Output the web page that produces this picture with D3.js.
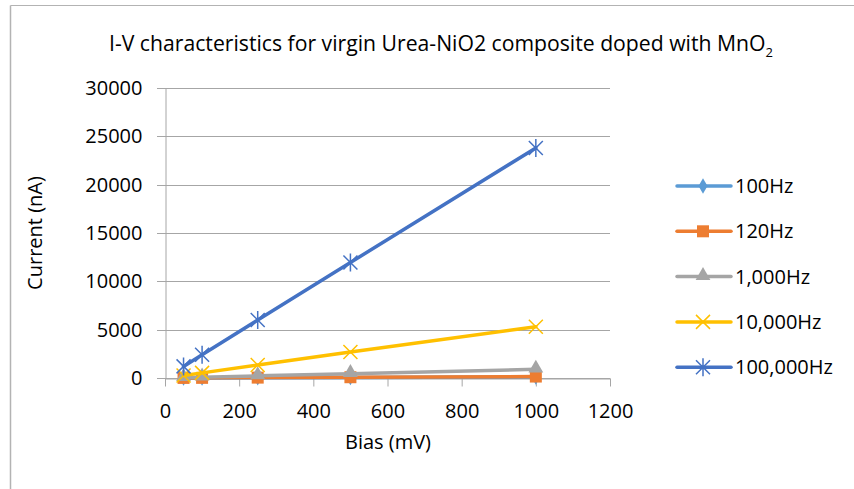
<!DOCTYPE html>
<html>
<head>
<meta charset="utf-8">
<script src="https://cdn.jsdelivr.net/npm/d3@7"></script>
<style>
body{margin:0;background:#fff;}
text{font-family:"Open Sans","Noto Sans",sans-serif;fill:#000;}
</style>
</head>
<body>
<div class="main"></div>
<script>
// data
var bias=[50,100,250,500,1000];
var seriesNames=['100Hz','120Hz','1,000Hz','10,000Hz','100,000Hz'];
var hz100=[6,12,30,60,120];
var hz120=[8,15,40,80,150];
var hz1000=[40,90,220,450,900];
var hz10000=[250,530,1350,2680,5300];
var hz100000=[1200,2400,6000,11950,23800];
var xTicks=[0,200,400,600,800,1000,1200];
var yTicks=[0,5000,10000,15000,20000,25000,30000];

var colors=['#5B9BD5','#ED7D31','#A5A5A5','#FFC000','#4472C4'];
var shapes=['diamond','square','triangle','cross','star'];
var allValues=[hz100,hz120,hz1000,hz10000,hz100000];

var W=854,H=489;
var margin={top:88,left:165,right:244,bottom:111};
var width=W-margin.left-margin.right;
var height=H-margin.top-margin.bottom;

var svg=d3.select('.main').append('svg')
    .attr('width',W).attr('height',H);

// outer frame (only top and left visible in the crop)
svg.append('line').attr('x1',10.5).attr('y1',5.5).attr('x2',W).attr('y2',5.5)
   .attr('stroke','#b3b3b3').attr('stroke-width',1);
svg.append('line').attr('x1',10.5).attr('y1',5.5).attr('x2',10.5).attr('y2',H)
   .attr('stroke','#b3b3b3').attr('stroke-width',1.5);

var x=d3.scaleLinear().domain([0,1200]).range([margin.left,margin.left+width]);
var y=d3.scaleLinear().domain([0,30000]).range([margin.top+height,margin.top]);

// gridlines
svg.append('g').selectAll('line').data(yTicks).enter().append('line')
   .attr('x1',margin.left-8).attr('x2',margin.left+width)
   .attr('y1',function(d){return Math.round(y(d))+0.5;})
   .attr('y2',function(d){return Math.round(y(d))+0.5;})
   .attr('stroke','#a6a6a6').attr('stroke-width',1);

// y axis
var yAxis=d3.axisLeft(y).tickValues(yTicks).tickSize(0).tickPadding(23).tickFormat(d3.format('d'));
var yg=svg.append('g').attr('transform','translate('+(margin.left+0.5)+',0)').call(yAxis);
yg.select('.domain').attr('stroke','#a6a6a6');
yg.selectAll('text').style('font-size','20px');

// x axis
var xAxis=d3.axisBottom(x).tickValues(xTicks).tickSize(8).tickSizeOuter(0).tickPadding(17).tickFormat(d3.format('d'));
var xg=svg.append('g').attr('transform','translate(0,'+(Math.round(y(0))+0.5)+')').call(xAxis);
xg.select('.domain').attr('stroke','#a6a6a6');
xg.selectAll('.tick line').attr('stroke','#a6a6a6');
xg.selectAll('text').style('font-size','20px');

// title
var title=svg.append('text').attr('x',441).attr('y',51).attr('text-anchor','middle')
   .style('font-size','21.2px');
title.append('tspan').text('I-V characteristics for virgin Urea-NiO2 composite doped with MnO');
title.append('tspan').attr('dy',6).style('font-size','13px').text('2');

// axis titles
svg.append('text').attr('transform','translate(42,233) rotate(-90)')
   .attr('text-anchor','middle').style('font-size','20px').text('Current (nA)');
svg.append('text').attr('x',388).attr('y',449).attr('text-anchor','middle')
   .style('font-size','20px').text('Bias (mV)');

function marker(g,shape,color,cx,cy){
  if(shape==='diamond'){
    g.append('path').attr('d',d3.symbol(d3.symbolDiamond,70)()).attr('transform','translate('+cx+','+cy+')').attr('fill',color);
  }else if(shape==='square'){
    g.append('rect').attr('x',cx-6).attr('y',cy-6).attr('width',12).attr('height',12).attr('fill',color);
  }else if(shape==='triangle'){
    g.append('path').attr('d',d3.symbol(d3.symbolTriangle,95)()).attr('transform','translate('+cx+','+(cy-1)+')').attr('fill',color);
  }else if(shape==='cross'){
    g.append('path').attr('d','M-7,-7L7,7M-7,7L7,-7').attr('transform','translate('+cx+','+cy+')')
     .attr('stroke',color).attr('stroke-width',1.5).attr('fill','none');
  }else{
    g.append('path').attr('d','M-7,-7L7,7M-7,7L7,-7M0,-9L0,9').attr('transform','translate('+cx+','+cy+')')
     .attr('stroke',color).attr('stroke-width',1.5).attr('fill','none');
  }
}

var line=d3.line().x(function(d){return x(d[0]);}).y(function(d){return y(d[1]);});
allValues.forEach(function(vals,i){
  var pts=bias.map(function(b,j){return [b,vals[j]];});
  var g=svg.append('g');
  g.append('path').datum(pts).attr('d',line).attr('fill','none')
   .attr('stroke',colors[i]).attr('stroke-width',3.5).attr('stroke-linecap','round');
  pts.forEach(function(p){marker(g,shapes[i],colors[i],x(p[0]),y(p[1]));});
});

// legend
var legend=svg.append('g');
seriesNames.forEach(function(name,i){
  var ly=186+i*45.3;
  var lg=legend.append('g');
  lg.append('line').attr('x1',677).attr('x2',731).attr('y1',ly).attr('y2',ly)
    .attr('stroke',colors[i]).attr('stroke-width',3.5).attr('stroke-linecap','round');
  marker(lg,shapes[i],colors[i],703,ly);
  lg.append('text').attr('x',735).attr('y',ly+7).style('font-size','20px').text(name);
});
</script>
</body>
</html>
